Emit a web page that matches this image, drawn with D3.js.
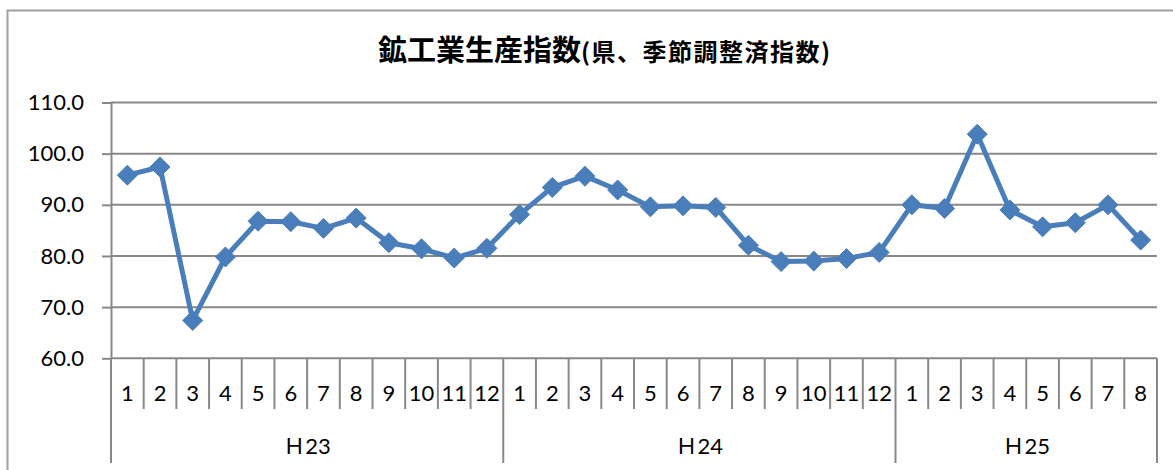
<!DOCTYPE html>
<html><head><meta charset="utf-8">
<script src="https://cdn.jsdelivr.net/npm/d3@7"></script>
<style>
html,body{margin:0;padding:0;background:#fff;}
svg{display:block;}
</style>
</head><body>
<svg id="chart" width="1173" height="470"></svg>
<script>
const titleMain = "鉱工業生産指数";
const titleSub = "(県、季節調整済指数)";
const years = ["Ｈ23", "Ｈ24", "Ｈ25"];
const monthsPerYear = [12, 12, 8];
const yTicks = [60, 70, 80, 90, 100, 110];
const values = [
  95.8, 97.4, 67.4, 79.8, 86.8, 86.7, 85.4, 87.4, 82.6, 81.4, 79.6, 81.5,
  88.1, 93.4, 95.6, 92.9, 89.6, 89.8, 89.5, 82.1, 78.9, 79.0, 79.5, 80.7,
  90.0, 89.3, 103.8, 89.0, 85.7, 86.5, 90.0, 83.1
];

(function () {
const cats = [];
years.forEach((yr, gi) => {
  for (let m = 1; m <= monthsPerYear[gi]; m++) cats.push({year: yr, month: m, key: gi + "-" + m});
});
const data = cats.map((c, i) => ({...c, value: values[i]}));

const svg = d3.select("#chart");
const pLeft = 111, pRight = 1157, pTop = 102.5, pBottom = 358.3;
const x = d3.scaleBand().domain(cats.map(c => c.key)).range([pLeft, pRight]).padding(0);
const y = d3.scaleLinear().domain([60, 110]).range([pBottom, pTop]);

const grey = "#888888";
const font = "Lato, 'Noto Sans CJK JP', sans-serif";

svg.append("path").attr("d", "M7.5,470 L7.5,10.5 L1173,10.5")
  .attr("fill", "none").attr("stroke", "#a0a0a0").attr("stroke-width", 2);

const t = svg.append("text").attr("x", 378).attr("y", 61).attr("text-anchor", "start")
  .attr("font-family", "'Noto Sans CJK JP', sans-serif").attr("font-weight", "bold").attr("fill", "#000");
t.append("tspan").attr("font-size", 29).text(titleMain);
t.append("tspan").attr("font-size", 24).attr("letter-spacing", 1.5).text(titleSub);

svg.append("g").selectAll("line").data(yTicks).join("line")
  .attr("x1", pLeft).attr("x2", pRight)
  .attr("y1", d => y(d)).attr("y2", d => y(d))
  .attr("stroke", grey).attr("stroke-width", 2);

const yAxis = svg.append("g").attr("transform", `translate(${pLeft},0)`)
  .call(d3.axisLeft(y).tickValues(yTicks).tickFormat(d3.format(".1f")).tickSize(9).tickSizeOuter(0).tickPadding(18));
yAxis.select(".domain").attr("stroke", grey).attr("stroke-width", 2);
yAxis.selectAll(".tick line").attr("stroke", grey).attr("stroke-width", 2);
yAxis.selectAll(".tick text").attr("font-family", font).attr("font-size", 22).attr("fill", "#000");

const bw = x.bandwidth();
const groupStarts = new Set();
let acc = 0;
monthsPerYear.forEach(n => { groupStarts.add(acc); acc += n; });
const bounds = d3.range(cats.length + 1);
const bx = i => i < cats.length ? x(cats[i].key) : x(cats[cats.length - 1].key) + bw;
svg.append("g").selectAll("line").data(bounds).join("line")
  .attr("x1", bx).attr("x2", bx)
  .attr("y1", pBottom)
  .attr("y2", i => (groupStarts.has(i) || i === cats.length) ? 463 : 409)
  .attr("stroke", grey).attr("stroke-width", 2);

svg.append("g").selectAll("text").data(cats).join("text")
  .attr("x", d => x(d.key) + bw / 2).attr("y", 401)
  .attr("text-anchor", "middle").attr("font-family", font).attr("font-size", 22).attr("fill", "#000")
  .text(d => d.month);

let start = 0;
const yearPos = years.map((yr, gi) => {
  const s = start; start += monthsPerYear[gi];
  return {year: yr, x0: x(cats[s].key), x1: x(cats[start - 1].key) + bw};
});
svg.append("g").selectAll("text").data(yearPos).join("text")
  .attr("x", d => (d.x0 + d.x1) / 2).attr("y", 454)
  .attr("text-anchor", "middle").attr("font-family", font).attr("font-size", 22).attr("fill", "#000")
  .text(d => d.year);

const blue = "#4a7ebb";
svg.append("path").datum(data)
  .attr("d", d3.line().x(d => x(d.key) + bw / 2).y(d => y(d.value)))
  .attr("fill", "none").attr("stroke", blue).attr("stroke-width", 5).attr("stroke-linejoin", "round");

svg.append("g").selectAll("path").data(data).join("path")
  .attr("transform", d => `translate(${x(d.key) + bw / 2},${y(d.value)})`)
  .attr("d", "M0,-10 L10,0 L0,10 L-10,0 Z")
  .attr("fill", blue).attr("stroke", blue).attr("stroke-width", 1);
})();
</script>
</body></html>
